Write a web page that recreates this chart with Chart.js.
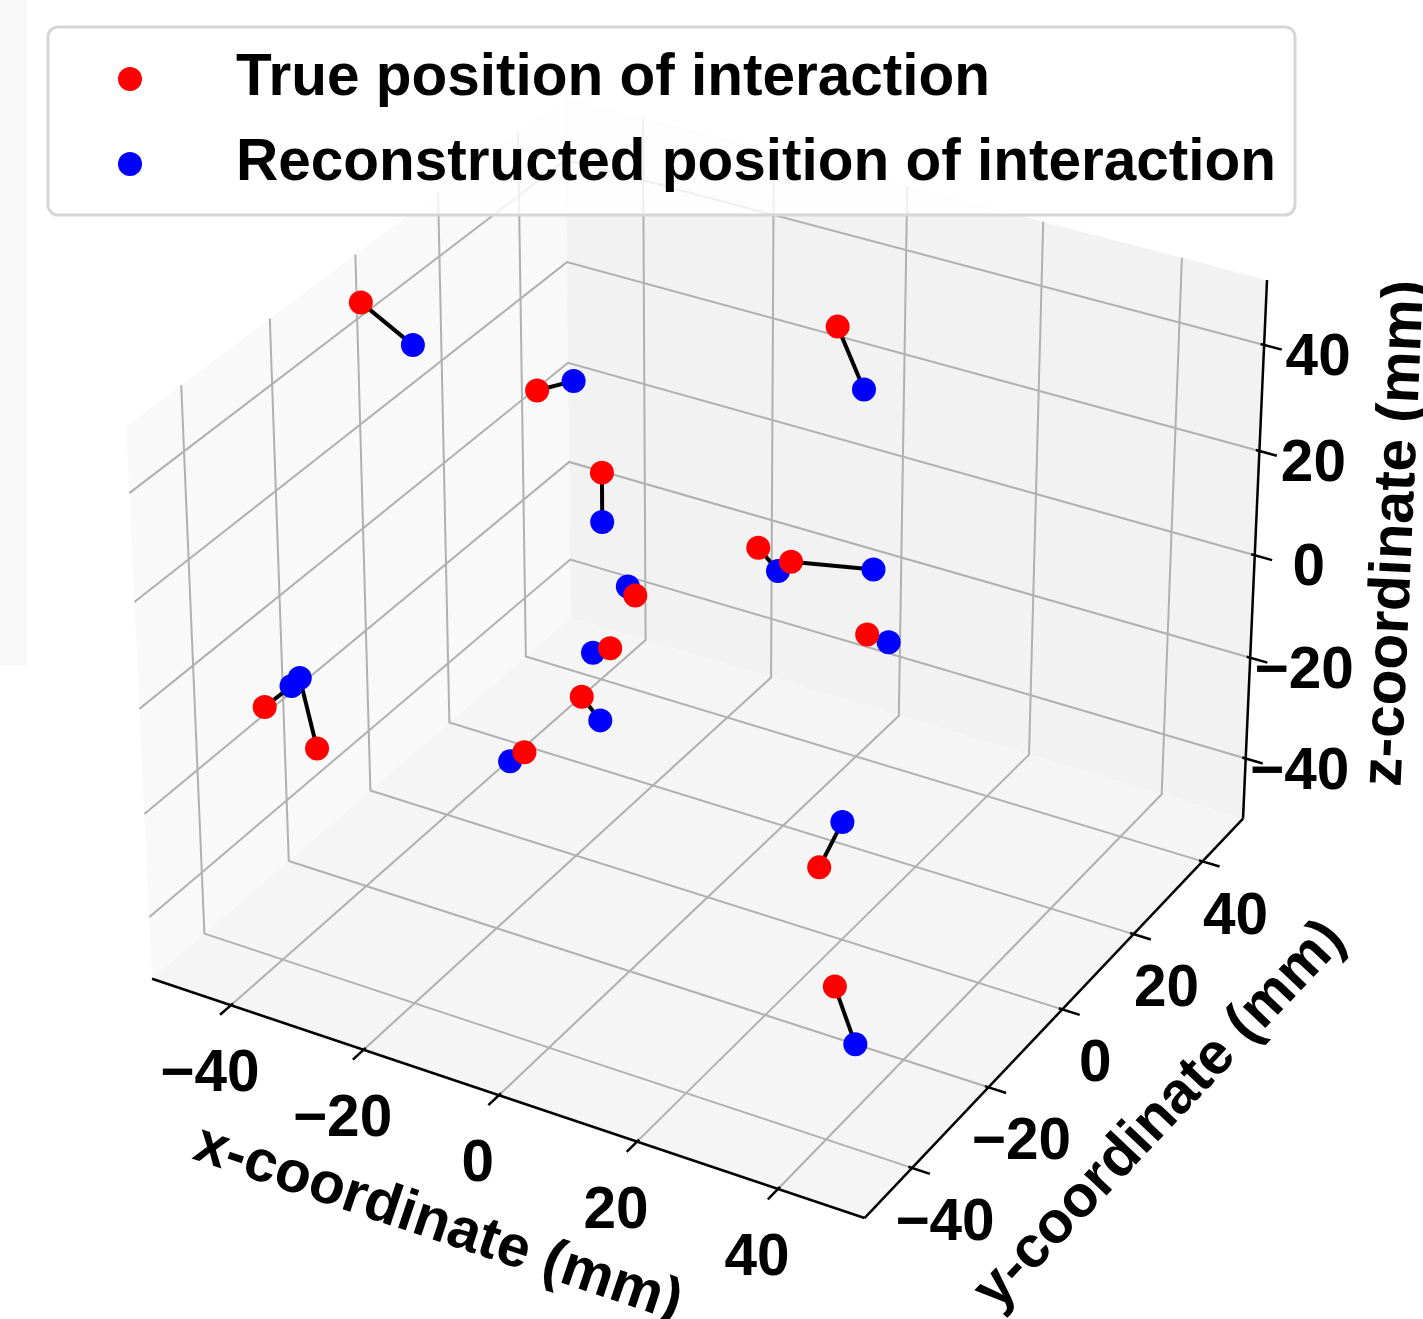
<!DOCTYPE html>
<html>
<head>
<meta charset="utf-8">
<script src="https://cdn.jsdelivr.net/npm/chart.js@4.4.0/dist/chart.umd.min.js"></script>
<style>
  html, body { margin: 0; padding: 0; background: #fff; overflow: hidden; }
  canvas { display: block; }
</style>
</head>
<body>
<canvas id="myChart" width="1423" height="1319"></canvas>
<script>
// positions in mm (depth estimated)
var trueX = [-48.7, -33.6, -20.7, 4.1, 9.5, -10.7, -13.2, -13.0, -17.3, -42.4, -37.0, 1.5, 22.3, 26.8, 37.0];
var trueY = [-4.2, 13.9, 8.6, 5.8, 4.7, 0.0, -2.2, -9.7, -16.9, -38.5, -35.0, 30.9, 1.6, -18.5, -32.7];
var trueZ = [46.8, 24.5, 16.8, 13.5, 13.6, 2.6, -7.0, -11.2, -18.7, -5.1, -13.3, 38.6, 6.8, -21.7, -29.7];

var recoX = [-41.6, -29.8, -19.1, 7.0, 18.8, -11.8, -15.0, -10.2, -18.6, -40.1, -41.1, 6.4, 24.9, 27.9, 40.9];
var recoY = [-3.2, 16.8, 5.9, 5.8, 9.5, 0.0, -3.5, -9.8, -18.3, -35.7, -32.3, 29.2, 2.5, -14.6, -34.4];
var recoZ = [40.7, 25.9, 9.7, 10.2, 12.5, 3.9, -7.7, -14.6, -20.0, -2.1, -3.3, 29.5, 5.7, -15.4, -37.7];

var ticks = [-40, -20, 0, 20, 40];
var LIM = [-50, 50];

// projected (screen) range of the hidden chart scales
var X_RANGE = [-0.103206, 0.104343];
var Y_RANGE = [-0.097648, 0.089449];

function dot(a, b) { return a[0]*b[0] + a[1]*b[1] + a[2]*b[2]; }
function cross(a, b) { return [a[1]*b[2]-a[2]*b[1], a[2]*b[0]-a[0]*b[2], a[0]*b[1]-a[1]*b[0]]; }
function norm(a) { var l = Math.hypot(a[0], a[1], a[2]); return [a[0]/l, a[1]/l, a[2]/l]; }

// same camera as matplotlib's default 3d view (elev 30, azim -60)
var elev = 30 * Math.PI / 180, azim = -60 * Math.PI / 180, dist = 10;
var aspect = [4, 4, 3].map(function(a) { return a * 1.8294640721620434 / Math.hypot(4, 4, 3); });
var w = [Math.cos(elev)*Math.cos(azim), Math.cos(elev)*Math.sin(azim), Math.sin(elev)];
var u = norm(cross([0, 0, 1], w));
var v = cross(w, u);

function project(x, y, z) {
  var p = [x, y, z];
  var q = [0, 1, 2].map(function(i) { return aspect[i] * ((p[i] - LIM[0]) / (LIM[1] - LIM[0]) - 0.5); });
  var s = dist - dot(w, q);
  return { x: dot(u, q) / s, y: dot(v, q) / s };
}

var PANE = LIM[1] + (LIM[1] - LIM[0]) / 48;

var datasets = [
  { label: 'True position of interaction',
    data: trueX.map(function(x, i) { return project(x, trueY[i], trueZ[i]); }),
    backgroundColor: '#ff0000', borderWidth: 0, pointRadius: 12 },
  { label: 'Reconstructed position of interaction',
    data: recoX.map(function(x, i) { return project(x, recoY[i], recoZ[i]); }),
    backgroundColor: '#0000ff', borderWidth: 0, pointRadius: 12 }
];
// black segment joining each true / reconstructed pair
for (var i = 0; i < trueX.length; i++) {
  datasets.push({
    data: [project(trueX[i], trueY[i], trueZ[i]), project(recoX[i], recoY[i], recoZ[i])],
    showLine: true, borderColor: '#000', borderWidth: 4, pointRadius: 0
  });
}

var frame3d = {
  id: 'frame3d',
  beforeDatasetsDraw: function(chart) {
    var ctx = chart.ctx, sx = chart.scales.x, sy = chart.scales.y;
    var L = PANE;
    function pt(x, y, z) { var p = project(x, y, z); return [sx.getPixelForValue(p.x), sy.getPixelForValue(p.y)]; }
    function trace(pts) {
      ctx.beginPath();
      pts.forEach(function(p, i) { var q = pt(p[0], p[1], p[2]); if (i) ctx.lineTo(q[0], q[1]); else ctx.moveTo(q[0], q[1]); });
    }
    function poly(pts, fill) { trace(pts); ctx.closePath(); ctx.fillStyle = fill; ctx.fill(); }
    function path(pts, color, width) { trace(pts); ctx.strokeStyle = color; ctx.lineWidth = width; ctx.stroke(); }

    ctx.save();
    // faint strip on the left edge
    ctx.fillStyle = '#f8f8f8';
    ctx.fillRect(0, 0, 27, 665);

    // panes
    poly([[-L,-L,-L],[-L,L,-L],[-L,L,L],[-L,-L,L]], '#f9f9f9');
    poly([[-L,L,-L],[L,L,-L],[L,L,L],[-L,L,L]], '#f2f2f2');
    poly([[-L,-L,-L],[L,-L,-L],[L,L,-L],[-L,L,-L]], '#f5f5f5');

    // grid
    ticks.forEach(function(t) {
      path([[t,-L,-L],[t,L,-L],[t,L,L]], '#b0b0b0', 2);
      path([[L,t,-L],[-L,t,-L],[-L,t,L]], '#b0b0b0', 2);
      path([[-L,-L,t],[-L,L,t],[L,L,t]], '#b0b0b0', 2);
    });

    // axis lines and ticks
    path([[-L,-L,-L],[L,-L,-L]], '#000', 2.5);
    path([[L,-L,-L],[L,L,-L]], '#000', 2.5);
    path([[L,L,-L],[L,L,L]], '#000', 2.5);
    var out = 2.5, inn = 0.5;
    ticks.forEach(function(t) {
      path([[t,-L+inn,-L],[t,-L-out,-L]], '#000', 2.5);
      path([[L-inn,t,-L],[L+out,t,-L]], '#000', 2.5);
      path([[L-inn,L,t],[L+out,L,t]], '#000', 2.5);
    });

    // tick labels
    ctx.fillStyle = '#000';
    ctx.font = 'bold 58.5px "Liberation Sans", Arial, sans-serif';
    ctx.textAlign = 'center';
    ctx.textBaseline = 'middle';
    function label(str, p, dx, dy, ang) {
      ctx.save(); ctx.translate(p[0] + dx, p[1] + dy); ctx.rotate(ang || 0); ctx.fillText(str, 0, 0); ctx.restore();
    }
    function fmt(t) { return t < 0 ? '\u2212' + Math.abs(t) : String(t); }
    ticks.forEach(function(t) {
      label(fmt(t), pt(t, -L, -L), -21, 70);
      label(fmt(t), pt(L, t, -L), 33, 56);
      label(fmt(t), pt(L, L, t), 54, 14);
    });

    // axis titles, turned like the axis on screen
    function angle(a, b) { var p = pt(a[0], a[1], a[2]), q = pt(b[0], b[1], b[2]); return Math.atan2(q[1] - p[1], q[0] - p[0]); }
    label('x-coordinate (mm)', pt(0, -L, -L), -61, 129, angle([-L,-L,-L], [L,-L,-L]));
    label('y-coordinate (mm)', pt(L, 0, -L), 98, 106, angle([L,-L,-L], [L,L,-L]));
    label('z-coordinate (mm)', pt(L, L, 0), 141, -22, angle([L,L,-L], [L,L,L]));
    ctx.restore();
  }
};

var legendBox = {
  id: 'legendBox',
  afterDatasetsDraw: function(chart) {
    var ctx = chart.ctx;
    ctx.save();
    ctx.beginPath();
    ctx.roundRect(48, 27, 1247, 188, 10);
    ctx.fillStyle = 'rgba(255,255,255,0.8)';
    ctx.fill();
    ctx.lineWidth = 3;
    ctx.strokeStyle = '#d6d6d6';
    ctx.stroke();
    var rows = [79, 164];
    chart.data.datasets.slice(0, 2).forEach(function(ds, i) {
      ctx.beginPath();
      ctx.arc(130, rows[i], 12, 0, Math.PI * 2);
      ctx.fillStyle = ds.backgroundColor;
      ctx.fill();
      ctx.fillStyle = '#000';
      ctx.font = 'bold 58.5px "Liberation Sans", Arial, sans-serif';
      ctx.textAlign = 'left';
      ctx.textBaseline = 'alphabetic';
      ctx.fillText(ds.label, 236, rows[i] + 16);
    });
    ctx.restore();
  }
};

var ctx = document.getElementById('myChart').getContext('2d');
var chart = new Chart(ctx, {
  type: 'scatter',
  data: { datasets: datasets },
  options: {
    responsive: false,
    animation: false,
    events: [],
    layout: { padding: 0, autoPadding: false },
    plugins: { legend: { display: false }, tooltip: { enabled: false } },
    scales: {
      x: { type: 'linear', display: false, min: X_RANGE[0], max: X_RANGE[1] },
      y: { type: 'linear', display: false, min: Y_RANGE[0], max: Y_RANGE[1] }
    }
  },
  plugins: [frame3d, legendBox]
});
</script>
</body>
</html>
